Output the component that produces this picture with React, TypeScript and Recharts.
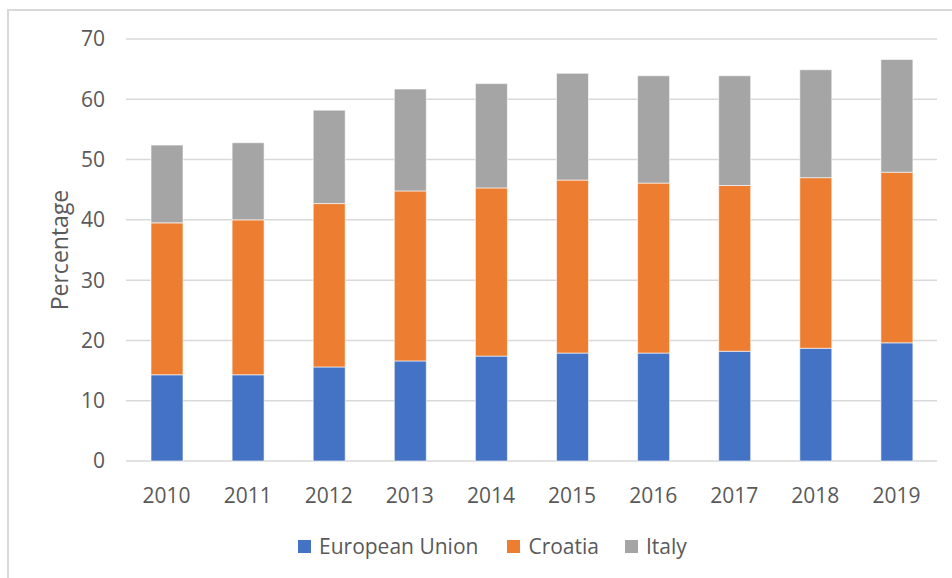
import React from 'react';
import { BarChart, Bar, XAxis, YAxis, CartesianGrid, Legend, Label } from 'recharts';

const years = ['2010', '2011', '2012', '2013', '2014', '2015', '2016', '2017', '2018', '2019'];
const euValues = [14.3, 14.3, 15.6, 16.6, 17.4, 17.9, 17.9, 18.2, 18.7, 19.6];
const croatiaValues = [25.2, 25.7, 27.1, 28.2, 27.9, 28.7, 28.2, 27.5, 28.3, 28.3];
const italyValues = [12.9, 12.8, 15.5, 16.9, 17.3, 17.7, 17.8, 18.2, 17.9, 18.7];
const yTicks = [0, 10, 20, 30, 40, 50, 60, 70];

const seriesNames = ['European Union', 'Croatia', 'Italy'];
const seriesColors = ['#4472C4', '#ED7D31', '#A5A5A5'];

const data = years.map((y, i) => ({
  year: y,
  eu: euValues[i],
  croatia: croatiaValues[i],
  italy: italyValues[i],
}));

const FONT = '"Open Sans", sans-serif';
const TEXT = '#595959';

const LegendContent = () => (
  <div style={{ display: 'flex', alignItems: 'center', fontFamily: FONT, fontSize: 21, color: TEXT, lineHeight: '26px' }}>
    {seriesNames.map((n, i) => (
      <div key={n} style={{ display: 'flex', alignItems: 'center', marginRight: i === 0 ? 29 : 26 }}>
        <div style={{ width: 13, height: 13, background: seriesColors[i], marginRight: 8 }} />
        <span>{n}</span>
      </div>
    ))}
  </div>
);

export default function App() {
  return (
    <div style={{ position: 'absolute', left: 0, top: 0, width: 952, height: 578, overflow: 'hidden', background: '#fff' }}>
      <div style={{ position: 'absolute', left: 7, top: 9, width: 1000, height: 1000, border: '2px solid #d9d9d9', boxSizing: 'border-box' }} />
      <div style={{ position: 'absolute', left: 0, top: 0 }}>
        <BarChart
          width={952}
          height={578}
          data={data}
          margin={{ top: 39, right: 15, bottom: 87, left: 66 }}
          barSize={32}
        >
          <CartesianGrid vertical={false} stroke="#d9d9d9" strokeWidth={1.5} />
          <XAxis
            dataKey="year"
            axisLine={false}
            tickLine={false}
            tickSize={0}
            tickMargin={27}
            height={30}
            tick={{ fill: TEXT, fontSize: 21, fontFamily: FONT }}
          />
          <YAxis
            width={60}
            domain={[0, 70]}
            ticks={yTicks}
            axisLine={false}
            tickLine={false}
            tickSize={0}
            tickMargin={21}
            tick={{ fill: TEXT, fontSize: 21, fontFamily: FONT }}
          >
            <Label
              value="Percentage"
              angle={-90}
              position="insideLeft"
              offset={0}
              dx={-6}
              style={{ fill: TEXT, fontSize: 23, fontFamily: FONT, textAnchor: 'middle' }}
            />
          </YAxis>
          <Legend
            layout="horizontal"
            verticalAlign="middle"
            align="center"
            content={<LegendContent />}
            wrapperStyle={{ position: 'absolute', left: 298, top: 533, width: 'auto' }}
          />
          <Bar dataKey="eu" name={seriesNames[0]} stackId="a" fill={seriesColors[0]} stroke="#ffffff" strokeWidth={0.6} isAnimationActive={false} />
          <Bar dataKey="croatia" name={seriesNames[1]} stackId="a" fill={seriesColors[1]} stroke="#ffffff" strokeWidth={0.6} isAnimationActive={false} />
          <Bar dataKey="italy" name={seriesNames[2]} stackId="a" fill={seriesColors[2]} stroke="#ffffff" strokeWidth={0.6} isAnimationActive={false} />
        </BarChart>
      </div>
    </div>
  );
}
